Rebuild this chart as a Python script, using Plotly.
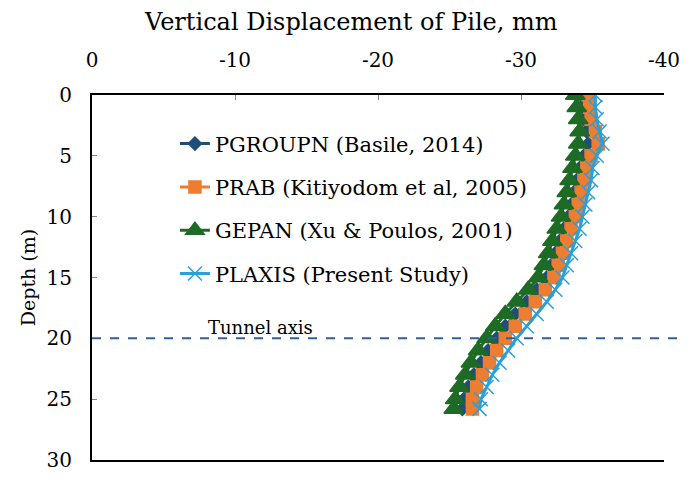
import plotly.graph_objects as go

depth = [0, 1, 2, 3, 4, 5, 6, 7, 8, 9, 10, 11, 12, 13, 14, 15, 16, 17, 18, 19, 20, 21, 22, 23, 24, 25, 25.8]

pgroupn = [-34.2, -34.3, -34.4, -34.6, -34.7, -34.4, -34.1, -33.9, -33.7, -33.5, -33.3, -33.0, -32.7, -32.4, -32.1, -31.8,
           -31.1, -30.4, -29.6, -28.9, -28.3, -27.7, -27.2, -26.7, -26.3, -26.0, -25.9]
prab = [-34.7, -34.8, -34.9, -35.2, -35.4, -34.9, -34.6, -34.4, -34.2, -34.0, -33.8, -33.5, -33.2, -32.9, -32.6, -32.3,
        -31.7, -31.0, -30.3, -29.6, -28.9, -28.3, -27.8, -27.3, -26.9, -26.6, -26.6]
gepan = [-33.8, -33.9, -34.0, -34.1, -34.0, -33.8, -33.6, -33.4, -33.2, -33.0, -32.8, -32.5, -32.2, -31.9, -31.6, -31.2,
         -30.5, -29.7, -28.9, -28.2, -27.6, -27.0, -26.5, -26.1, -25.7, -25.4, -25.3]
plaxis = [-35.2, -35.2, -35.3, -35.5, -35.7, -35.3, -35.0, -34.9, -34.7, -34.5, -34.3, -34.1, -33.8, -33.5, -33.2, -32.9,
          -32.4, -31.8, -31.1, -30.4, -29.7, -29.1, -28.5, -28.0, -27.6, -27.2, -27.1]

tunnel_depth = 20
x_range = [0, -40]
y_range = [30, 0]
x_ticks = [0, -10, -20, -30, -40]
y_ticks = [0, 5, 10, 15, 20, 25, 30]

FONT = "DejaVu Serif"

fig = go.Figure()
series = [
    ("PGROUPN (Basile, 2014)", pgroupn, "#1F4E79", "diamond", 10),
    ("PRAB (Kitiyodom et al, 2005)", prab, "#ED7D31", "square", 12),
    ("GEPAN (Xu & Poulos, 2001)", gepan, "#1D6B24", "triangle-up", 17),
    ("PLAXIS (Present Study)", plaxis, "#2A9FD8", "x-thin", 14),
]
for i, (name, vals, col, sym, size) in enumerate(series):
    fig.add_trace(go.Scatter(
        x=vals, y=depth, mode="lines+markers", name=name, legendgroup=f"g{i}",
        line=dict(color=col, width=3),
        marker=dict(symbol=sym, size=size, color=col, line=dict(color=col, width=1.5)),
    ))

# dashed tunnel-axis line running past the right end of the plot area
ty = (y_range[0] - tunnel_depth) / (y_range[0] - y_range[1])
fig.add_shape(type="line", xref="paper", yref="paper", x0=0, x1=1.03, y0=ty, y1=ty,
              line=dict(color="#2F5FA0", width=2, dash="dash"))
fig.add_annotation(x=-11.8, y=tunnel_depth - 0.85, text="Tunnel axis", showarrow=False,
                   font=dict(family=FONT, size=18, color="black"))
fig.add_annotation(xref="paper", yref="paper", x=0.452, y=1.245, text="Vertical Displacement of Pile, mm",
                   showarrow=False, font=dict(family=FONT, size=24, color="black"))

fig.update_layout(
    width=692, height=484,
    margin=dict(l=92, r=15, t=95, b=17),
    paper_bgcolor="white", plot_bgcolor="white",
    font=dict(family=FONT, size=20, color="black"),
    legend=dict(x=0.145, y=0.922, xanchor="left", yanchor="top", bgcolor="rgba(0,0,0,0)",
                font=dict(family=FONT, size=21), tracegroupgap=13, traceorder="grouped"),
    xaxis=dict(range=x_range, side="top", tickvals=x_ticks, ticktext=[str(v) for v in x_ticks],
               showgrid=False, zeroline=False, showline=True, linecolor="black", linewidth=2,
               mirror=True, ticks="inside", ticklen=5, tickcolor="#888", ticklabelstandoff=18,
               ticklabeloverflow="allow", tickfont=dict(family=FONT, size=20)),
    yaxis=dict(range=y_range, tickvals=y_ticks, showgrid=False, zeroline=False, showline=True,
               linecolor="black", linewidth=2, ticks="inside", ticklen=5, tickcolor="#888",
               ticklabelstandoff=14, tickfont=dict(family=FONT, size=20),
               title=dict(text="Depth (m)", font=dict(family=FONT, size=19), standoff=6)),
    showlegend=True,
)
fig.write_html("out.html")
